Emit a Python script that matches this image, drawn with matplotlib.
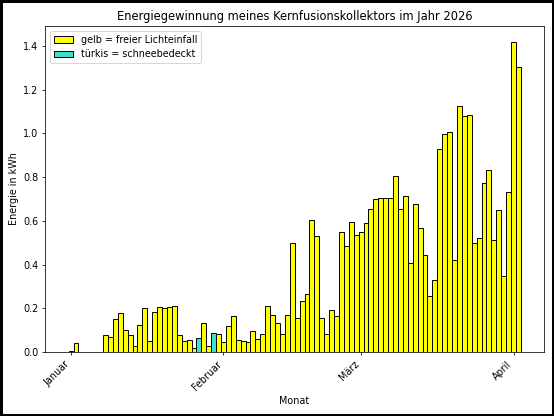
import datetime as dt
import matplotlib
matplotlib.use("Agg")
import matplotlib.pyplot as plt
import matplotlib.dates as mdates
from matplotlib.patches import Patch

# ---- data ----
start_date = dt.date(2026, 1, 1)
energy_kwh = [
    # Januar
    0.003, 0.040, 0.0, 0.0, 0.002, 0.002, 0.0, 0.076, 0.069, 0.152,
    0.180, 0.100, 0.079, 0.026, 0.122, 0.200, 0.052, 0.183, 0.207, 0.203,
    0.206, 0.210, 0.080, 0.050, 0.055, 0.018, 0.065, 0.132, 0.028, 0.088,
    0.082,
    # Februar
    0.048, 0.117, 0.163, 0.056, 0.052, 0.046, 0.096, 0.059, 0.081, 0.210,
    0.171, 0.131, 0.081, 0.171, 0.500, 0.154, 0.232, 0.264, 0.602, 0.529,
    0.154, 0.082, 0.192, 0.163, 0.550, 0.486, 0.593, 0.535,
    # März
    0.548, 0.590, 0.653, 0.701, 0.706, 0.706, 0.705, 0.807, 0.656, 0.714,
    0.409, 0.676, 0.567, 0.445, 0.256, 0.328, 0.927, 0.999, 1.008, 0.419,
    1.127, 1.080, 1.083, 0.497, 0.521, 0.773, 0.834, 0.514, 0.650, 0.348,
    0.733,
    # April
    1.420, 1.305,
]
snow_days = [dt.date(2026, 1, 27), dt.date(2026, 1, 30)]
month_ticks = [dt.date(2026, 1, 1), dt.date(2026, 2, 1), dt.date(2026, 3, 1), dt.date(2026, 4, 1)]
month_labels = ["Januar", "Februar", "März", "April"]

dates = [start_date + dt.timedelta(days=i) for i in range(len(energy_kwh))]
colors = ["turquoise" if d in snow_days else "yellow" for d in dates]

DPI = 69.25
fig = plt.figure(figsize=(554 / DPI, 416 / DPI), dpi=DPI)
fig.patch.set_edgecolor("black")
fig.patch.set_linewidth(5)
ax = fig.add_axes([45 / 554, 1 - 352 / 416, (544 - 45) / 554, (352 - 26) / 416])

ax.bar(dates, energy_kwh, width=1.0, color=colors, edgecolor="black", linewidth=1.0)

ax.set_xticks(month_ticks)
ax.set_xticklabels(month_labels, rotation=45, ha="right")
x0 = mdates.date2num(start_date)
ax.set_xlim(x0 - 5.3, x0 + len(energy_kwh) - 1 + 5.2)
ax.set_ylim(0, 1.491)

ax.set_title("Energiegewinnung meines Kernfusionskollektors im Jahr 2026")
ax.set_xlabel("Monat")
ax.set_ylabel("Energie in kWh")

handles = [
    Patch(facecolor="yellow", edgecolor="black", label="gelb = freier Lichteinfall"),
    Patch(facecolor="turquoise", edgecolor="black", label="türkis = schneebedeckt"),
]
ax.legend(handles=handles, loc="upper left")

fig.savefig("out.png", dpi=DPI, edgecolor=fig.get_edgecolor())
